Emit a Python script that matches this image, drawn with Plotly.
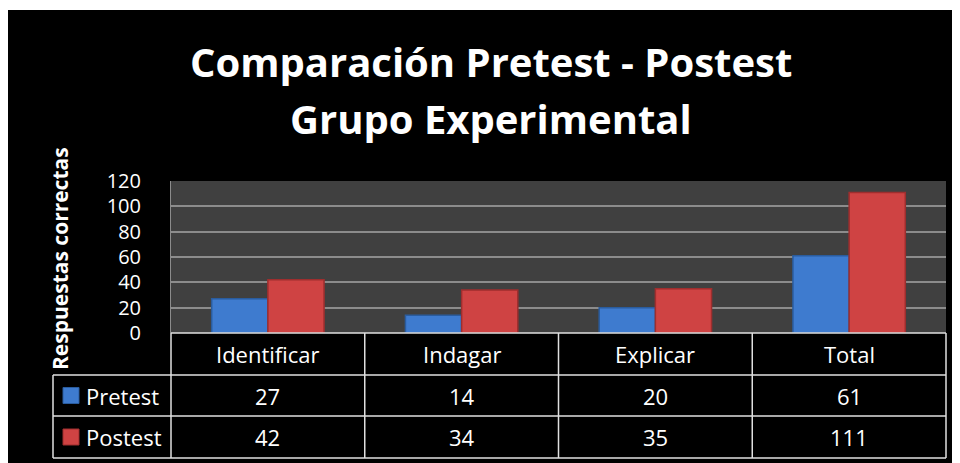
import plotly.graph_objects as go

# ---- data ----
categories = ["Identificar", "Indagar", "Explicar", "Total"]
series_names = ["Pretest", "Postest"]
pretest = [27, 14, 20, 61]
postest = [42, 34, 35, 111]
y_ticks = [0, 20, 40, 60, 80, 100, 120]
title_lines = ["Comparación Pretest - Postest", "Grupo Experimental"]
y_title = "Respuestas correctas"

# ---- style ----
OFF = 8  # page body margin offset
W, H = 960 - OFF, 463 - OFF
L, R, T, B = 171 - OFF, 14, 181 - OFF, 130
PW = W - L - R
PH = H - T - B
blue, blue_edge = "#3E7BCF", "#2A5C9E"
red, red_edge = "#CF4343", "#9E2E2E"
FONT = "Open Sans"

def xp(px):  # page pixel -> paper
    return (px - OFF - L) / PW

def yp(py):
    return (H - B - (py - OFF)) / PH

fig = go.Figure()
fig.add_trace(go.Bar(x=categories, y=pretest, name=series_names[0],
                     marker=dict(color=blue, line=dict(color=blue_edge, width=1.5))))
fig.add_trace(go.Bar(x=categories, y=postest, name=series_names[1],
                     marker=dict(color=red, line=dict(color=red_edge, width=1.5))))

shapes = []
annotations = []
# white strip at top of black panel
shapes.append(dict(type="rect", xref="paper", yref="paper", layer="below",
                   x0=xp(0), x1=xp(W + 20), y0=yp(0), y1=yp(10),
                   fillcolor="white", line=dict(width=0)))

# table grid
n = len(categories)
line_style = dict(color="#E0E0E0", width=1.5)
row_top, row1, row2, row_bot = 333, 375, 416, 458
for i in range(n + 1):
    shapes.append(dict(type="line", xref="paper", yref="paper",
                       x0=i / n, x1=i / n, y0=yp(row_top), y1=yp(row_bot), line=line_style))
shapes.append(dict(type="line", xref="paper", yref="paper",
                   x0=xp(53), x1=xp(53), y0=yp(row1), y1=yp(row_bot), line=line_style))
shapes.append(dict(type="line", xref="paper", yref="paper",
                   x0=0, x1=1, y0=yp(row_top), y1=yp(row_top), line=line_style))
for ry in (row1, row2, row_bot):
    shapes.append(dict(type="line", xref="paper", yref="paper",
                       x0=xp(53), x1=1, y0=yp(ry), y1=yp(ry), line=line_style))

cell_font = dict(family=FONT, size=22, color="white")

def ann(x, y, text, font, **kw):
    d = dict(x=x, y=y, xref="paper", yref="paper", text=text, showarrow=False,
             font=font, xanchor="center", yanchor="middle")
    d.update(kw)
    annotations.append(d)

for i, c in enumerate(categories):
    cx = (i + 0.5) / n
    ann(cx, yp((row_top + row1) / 2), c, cell_font)
    ann(cx, yp((row1 + row2) / 2), str(pretest[i]), cell_font)
    ann(cx, yp((row2 + row_bot) / 2), str(postest[i]), cell_font)

# legend keys in table
for (name, col, edge, r0, r1) in [(series_names[0], blue, blue_edge, row1, row2),
                                   (series_names[1], red, red_edge, row2, row_bot)]:
    cy = (r0 + r1) / 2
    shapes.append(dict(type="rect", xref="paper", yref="paper",
                       x0=xp(63), x1=xp(79), y0=yp(cy + 8), y1=yp(cy - 8),
                       fillcolor=col, line=dict(color=edge, width=1)))
    ann(xp(84), yp(cy), name, cell_font, xanchor="left")

# titles
title_font = dict(family=FONT, size=40, color="white")
ann(xp(491), yp(61), "<b>%s</b>" % title_lines[0], title_font)
ann(xp(491), yp(118), "<b>%s</b>" % title_lines[1], title_font)
ann(xp(60), yp(259), "<b>%s</b>" % y_title, dict(family=FONT, size=21, color="white"),
    textangle=-90)

fig.update_layout(
    width=W, height=H,
    margin=dict(l=L, r=R, t=T, b=B, pad=0),
    paper_bgcolor="black",
    plot_bgcolor="#404040",
    showlegend=False,
    barmode="group",
    bargap=0.42,
    bargroupgap=0,
    shapes=shapes,
    annotations=annotations,
    xaxis=dict(showticklabels=False, showgrid=False, zeroline=False, ticks="",
               showline=False),
    yaxis=dict(range=[0, 120], tickvals=y_ticks, showgrid=True, gridcolor="#8C8C8C",
               gridwidth=1.5, zeroline=False, showline=True, linecolor="#8C8C8C",
               linewidth=1, ticks="", ticklabelstandoff=25,
               tickfont=dict(family=FONT, size=20, color="white")),
)

fig.write_html("out.html")
